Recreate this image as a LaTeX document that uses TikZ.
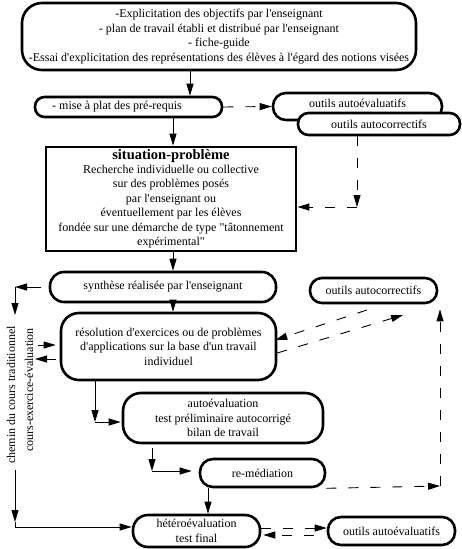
\documentclass[tikz,border=0pt]{standalone}
\usepackage{fontspec}
\setmainfont{Liberation Serif}[Ligatures=TeXOff]
\usetikzlibrary{arrows.meta,calc}
\begin{document}
\begin{tikzpicture}[x=1pt,y=-1pt,
  txt/.style={font=\fontsize{12}{14.5}\selectfont, align=center, inner sep=0pt},
  rb/.style={txt, draw, line width=2.6pt, fill=white, rounded corners=#1},
  rb/.default=12pt,
  arr/.style={line width=0.9pt, -{Triangle[length=12pt,width=7pt]}},
  darr/.style={arr, dash pattern=on 10pt off 12pt}]
\useasboundingbox[fill=white] (0,0) rectangle (461,549);

% boxes
\node[rb=20pt, minimum width=394pt, minimum height=67pt] (top) at (219,36.5)
  {-Explicitation des objectifs par l'enseignant\\
   - plan de travail établi et distribué par l'enseignant\\
   - fiche-guide\\
   -Essai d'explicitation des représentations des élèves à l'égard des notions visées};
\node[rb=9.5pt, minimum width=187pt, minimum height=20pt] (mise) at (128.5,107)
  {- mise à plat des pré-requis\hspace{23pt}};
\node[rb=13pt, minimum width=169pt, minimum height=27pt, text depth=0pt] (oae1) at (357.5,106.5)
  {\raisebox{7pt}{outils autoévaluatifs}};
\node[rb=10.5pt, minimum width=162pt, minimum height=22pt] (oac1) at (379,124)
  {outils autocorrectifs};
\node[txt, draw, line width=2.8pt, fill=white, minimum width=250pt, minimum height=104pt] (sit) at (171,199)
  {{\fontsize{14.5}{14.5}\selectfont\bfseries situation-problème}\\[-1pt]
   Recherche individuelle ou collective\\
   sur des problèmes posés\\
   par l'enseignant ou\\
   éventuellement par les élèves\\
   fondée sur une démarche de type "tâtonnement\\
   expérimental"};
\node[rb=14pt, minimum width=226pt, minimum height=30pt] (synth) at (163,287)
  {synthèse réalisée par l'enseignant};
\node[rb=12pt, minimum width=127pt, minimum height=25pt] (oac2) at (373.5,290.5)
  {outils autocorrectifs};
\node[rb=18pt, minimum width=215pt, minimum height=67pt] (resol) at (168.5,346.5)
  {résolution d'exercices ou de problèmes\\
   d'applications sur la base d'un travail\\
   individuel};
\node[rb=18pt, minimum width=200pt, minimum height=50pt] (autoeval) at (223,418)
  {autoévaluation\\
   test préliminaire autocorrigé\\
   bilan de travail};
\node[rb=13pt, minimum width=125pt, minimum height=28pt] (rem) at (262.5,473)
  {re-médiation};
\node[rb=15pt, minimum width=127pt, minimum height=32pt] (hetero) at (196.5,531)
  {hétéroévaluation\\ test final};
\node[rb=13pt, minimum width=127pt, minimum height=28pt] (oae2) at (391.5,531)
  {outils autoévaluatifs};

% vertical texts
\node[txt, rotate=90] (v1) at (11,395) {chemin du cours traditionnel};
\node[txt, rotate=90] (v2) at (29,390) {cours-exercice-évaluation};

% helper coordinates
\coordinate (x190) at (190,0);
\coordinate (x173) at (173,0);
\coordinate (x208) at (208,0);
\coordinate (c1) at (357,207);
\coordinate (L1) at (15,287);
\coordinate (L1b) at (15,315);
\coordinate (L2) at (15,470);
\coordinate (L2b) at (15,522);
\coordinate (L3) at (15,527);
\coordinate (s1) at (38,345);
\coordinate (s2) at (35,359);
\coordinate (d1) at (367,310);
\coordinate (d2) at (403,315);
\coordinate (r1) at (440,486);
\coordinate (a1) at (95,422);
\coordinate (a2) at (152,471);

% connectors
\draw[arr] (top.south -| x190) -- (mise.north -| x190);
\draw[arr] (mise.south -| x173) -- (sit.north -| x173);
\draw[darr] (mise.east) -- (oae1.west);
\draw[darr] (oac1.south -| c1) -- (c1);
\draw[darr] (c1) -- (sit.east |- c1);
\draw[arr] (sit.south -| x173) -- (synth.north -| x173);
\draw[arr] ($(synth.west)+(-8,0)$) -- (L1);
\draw[arr] (L1) -- (L1b);
\draw[arr] (L2) -- (L2b);
\draw[arr] (L2b) -- (L3) -- (hetero.west |- L3);
\draw[arr] (synth.south -| x173) -- (resol.north -| x173);
\draw[arr, shorten >=4pt] (s1) -- (resol.west |- s1);
\draw[arr] ($(resol.west |- s2)+(-4,0)$) -- (s2);
\draw[darr] (d1) -- ($(resol.east)+(-2,-6.5)$);
\draw[darr] ($(resol.east)+(0,6.5)$) -- (d2);
\draw[darr] (rem.south east) -- (r1);
\draw[darr] (r1) -- ($(oac2.south -| r1)+(0,5)$);
\draw[arr] (resol.south -| a1) -- (a1);
\draw[arr, shorten >=1pt] (a1) -- (autoeval.west |- a1);
\draw[arr, shorten <=4pt] (autoeval.south -| a2) -- (a2);
\draw[arr, shorten >=7pt] (a2) -- (rem.west |- a2);
\draw[arr] (rem.south -| x208) -- (hetero.north -| x208);
\draw[darr] ($(hetero.east)+(0,-3)$) -- ($(oae2.west)+(0,-3)$);
\draw[darr] ($(oae2.west)+(-13,4)$) -- ($(hetero.east)+(2,4)$);
\end{tikzpicture}
\end{document}
